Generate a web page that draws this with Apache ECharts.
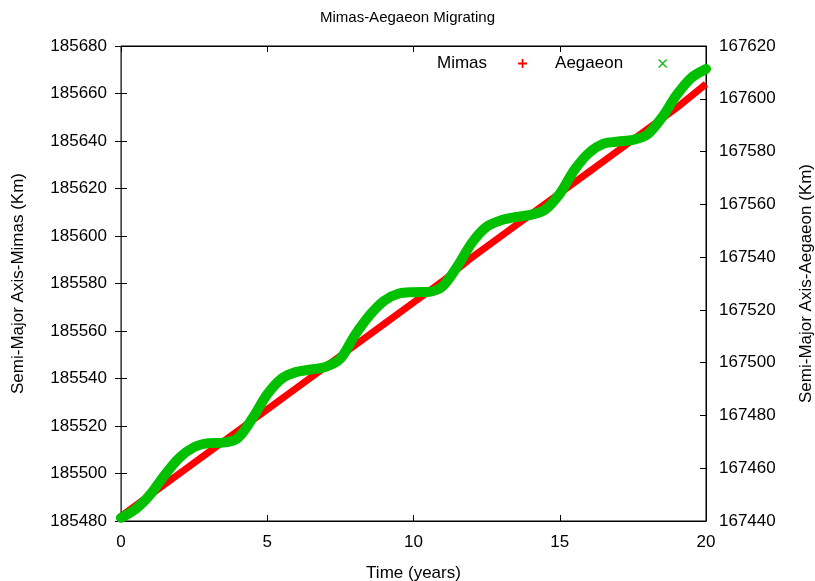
<!DOCTYPE html>
<html>
<head>
<meta charset="utf-8">
<title>Mimas-Aegaeon Migrating</title>
<script src="https://cdn.jsdelivr.net/npm/echarts@6/dist/echarts.min.js"></script>
<style>
html,body{margin:0;padding:0;background:#fff;}
#main{width:815px;height:581px;}
</style>
</head>
<body>
<div id="main"></div>
<script>
// 时间 (年)
var mimasYears = [0,1,2,3,4,5,6,7,8,9,10,11,12,13,14,15,16,17,18,19,20];
// Mimas 半长轴 (km)，左轴
var mimasAxis = [185482,185491,185500,185509,185518,185527,185536,185545,185554,185563,
	185572,185581,185591,185600,185609,185618,185627,185636,185645,185654,185664];

var aegaeonYears = [0,0.5,1,1.5,2,2.5,3,3.5,4,4.5,5,5.5,6,6.5,7,7.5,8,8.5,9,9.5,10,
	10.5,11,11.5,12,12.5,13,13.5,14,14.5,15,15.5,16,16.5,17,17.5,18,18.5,19,19.5,20];
// Aegaeon 半长轴 (km)，右轴
var aegaeonAxis = [167441.2,167444.5,167450,167457.5,167464,167468,167469.5,167469.7,167471.5,167479,
	167488,167494,167496.5,167497.4,167498.4,167501.5,167510.5,167518,167523.5,167526.2,167526.7,
	167526.8,167529,167536.5,167545.5,167551.5,167554,167555.2,167556,167558,167564,
	167573,167579.5,167583,167583.8,167584.4,167586.5,167593,167601.5,167608,167611.3];

var leftTicks = [185480,185500,185520,185540,185560,185580,185600,185620,185640,185660,185680];
var rightTicks = [167440,167460,167480,167500,167520,167540,167560,167580,167600,167620];
var xTicks = [0,5,10,15,20];

var FONT = 'Liberation Sans';

function pairs(xs, ys){
	var out = [];
	for(var i=0;i<xs.length;i++){
		out.push([xs[i], ys[i]]);
	}
	return out;
}

//不要千位分隔符
function plain(v){
	return String(v);
}

var plusIcon = 'path://M4,0h2v4h4v2h-4v4h-2v-4h-4v-2h4z';
var crossIcon = 'path://M0,1L1,0L5,4L9,0L10,1L6,5L10,9L9,10L5,6L1,10L0,9L4,5Z';

var chart = echarts.init(document.getElementById('main'));

function ticks(){
	return {show:true, inside:true, length:6, lineStyle:{color:'#000', width:1}};
}

var option = {
	backgroundColor:'#fff',
	animation:false,
	title:{
		text:'Mimas-Aegaeon Migrating',
		left:'center',
		top:5,
		textStyle:{fontFamily:FONT, fontSize:15, fontWeight:'normal', color:'#000'}
	},
	legend:{
		left:432,
		top:50,
		align:'right',
		itemWidth:9,
		itemHeight:9,
		itemGap:28,
		textStyle:{fontFamily:FONT, fontSize:17, color:'#000', padding:[0,26,0,0]},
		data:[
			{name:'Mimas', icon:plusIcon, itemStyle:{color:'#ff0000'}},
			{name:'Aegaeon', icon:crossIcon, itemStyle:{color:'#00c000'},
				textStyle:{fontFamily:FONT, fontSize:17, color:'#000', padding:[0,30,0,0]}}
		]
	},
	grid:{left:121, right:109, top:46, bottom:60, containLabel:false, outerBoundsMode:'none',
		show:true, borderColor:'#000', borderWidth:1, backgroundColor:'transparent'},
	xAxis:[{
		type:'value',
		min:xTicks[0], max:xTicks[xTicks.length-1], interval:5,
		name:'Time (years)',
		nameLocation:'middle',
		nameGap:44,
		nameTextStyle:{fontFamily:FONT, fontSize:17, color:'#000'},
		axisLine:{show:true, onZero:false, lineStyle:{color:'#000'}},
		axisTick:ticks(),
		axisLabel:{fontFamily:FONT, fontSize:17, color:'#000', margin:13, formatter:plain},
		splitLine:{show:false}
	},{
		type:'value', position:'top',
		min:0, max:20, interval:5,
		axisLine:{show:true, onZero:false, lineStyle:{color:'#000'}},
		axisTick:ticks(),
		axisLabel:{show:false},
		splitLine:{show:false}
	}],
	yAxis:[{
		type:'value',
		min:leftTicks[0], max:leftTicks[leftTicks.length-1], interval:20,
		name:'Semi-Major Axis-Mimas (Km)',
		nameLocation:'middle',
		nameGap:94,
		nameRotate:90,
		nameTextStyle:{fontFamily:FONT, fontSize:17, color:'#000'},
		axisLine:{show:true, onZero:false, lineStyle:{color:'#444'}},
		axisTick:ticks(),
		axisLabel:{fontFamily:FONT, fontSize:17, color:'#000', margin:14, formatter:plain},
		splitLine:{show:false}
	},{
		type:'value', position:'right',
		min:rightTicks[0], max:rightTicks[rightTicks.length-1], interval:20,
		name:'Semi-Major Axis-Aegaeon (Km)',
		nameLocation:'middle',
		nameGap:92,
		nameRotate:90,
		nameTextStyle:{fontFamily:FONT, fontSize:17, color:'#000'},
		axisLine:{show:true, onZero:false, lineStyle:{color:'#000'}},
		axisTick:ticks(),
		axisLabel:{fontFamily:FONT, fontSize:17, color:'#000', margin:13, formatter:plain},
		splitLine:{show:false}
	},{
		// 左轴刻度镜像到右边
		type:'value', position:'right', offset:0,
		min:leftTicks[0], max:leftTicks[leftTicks.length-1], interval:20,
		axisLine:{show:false},
		axisTick:ticks(),
		axisLabel:{show:false},
		splitLine:{show:false}
	}],
	series:[{
		name:'Mimas',
		type:'line',
		xAxisIndex:0, yAxisIndex:0,
		data:pairs(mimasYears, mimasAxis),
		showSymbol:false,
		color:'#ff0000',
		lineStyle:{color:'#ff0000', width:7},
		z:2
	},{
		name:'Aegaeon',
		type:'line',
		xAxisIndex:0, yAxisIndex:1,
		data:pairs(aegaeonYears, aegaeonAxis),
		showSymbol:false,
		smooth:0.3,
		color:'#00c000',
		lineStyle:{color:'#00c000', width:10, cap:'round'},
		z:3
	}]
};

chart.setOption(option);
</script>
</body>
</html>
